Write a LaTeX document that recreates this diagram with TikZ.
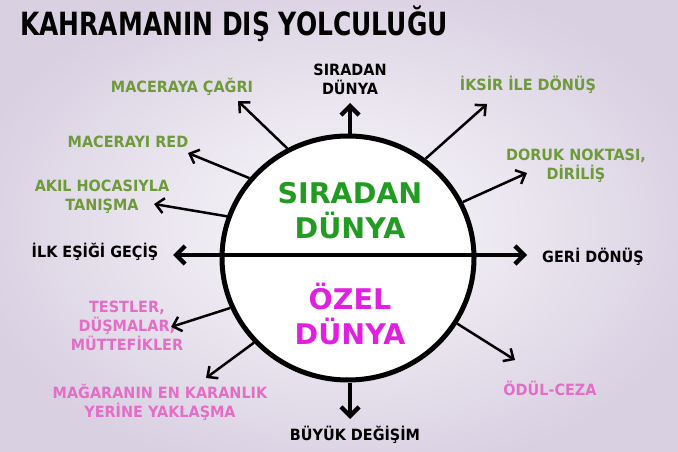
\documentclass[tikz,border=0pt]{standalone}
\usepackage{fontspec}
\setmainfont{DejaVu Sans}
\usetikzlibrary{arrows.meta,shapes.geometric}
\definecolor{lblgreen}{HTML}{6E9A3A}
\definecolor{biggreen}{HTML}{239B23}
\definecolor{lblpink}{HTML}{E46EC6}
\definecolor{bigmag}{HTML}{E020E0}
\definecolor{bgin}{HTML}{FAF9FB}
\definecolor{bgout}{HTML}{D9D0E2}
\tikzset{
  lbl/.style={font=\bfseries\fontsize{15.5}{19}\selectfont, align=center, inner sep=0pt},
  biglbl/.style={font=\bfseries\fontsize{28.5}{35}\selectfont, align=center, inner sep=0pt},
  thinarrow/.style={line width=2.5pt, -{Straight Barb[length=8pt,width=15pt,line width=2.5pt]}},
  thickarrow/.style={line width=4.4pt, -{Straight Barb[length=9pt,width=18pt,line width=4.4pt]}},
}
\newcommand{\nrw}[1]{\scalebox{0.93}[1]{#1}}
\begin{document}
\begin{tikzpicture}[x=1pt,y=-1pt]
\useasboundingbox (0,0) rectangle (678,452);
\shade[inner color=bgin, outer color=bgout] (-40,-30) rectangle (718,482);
% title
\node[anchor=west, inner sep=0pt, font=\bfseries\fontsize{32}{36}\selectfont] (title) at (20,24) {\scalebox{0.78}[1]{KAHRAMANIN DIŞ YOLCULUĞU}};
% world circle
\node[ellipse, draw, line width=5pt, fill=white, minimum width=252pt, minimum height=244pt, inner sep=0pt] (world) at (348,258) {};
% horizontal axis
\coordinate (hl) at (173,255);
\coordinate (hr) at (527,255);
\draw[line width=4.4pt, {Straight Barb[length=9pt,width=18pt,line width=4.4pt]}-{Straight Barb[length=9pt,width=18pt,line width=4.4pt]}] (hl) -- (hr);
% big labels
\node[biglbl, text=biggreen] (sir) at (350,211) {SIRADAN\\DÜNYA};
\node[biglbl, text=bigmag] (ozel) at (350,314) {ÖZEL\\DÜNYA};
% labels
\node[lbl] (topsir) at (350,79) {\nrw{SIRADAN}\\\nrw{DÜNYA}};
\node[lbl] (buyuk) at (355,435) {\nrw{BÜYÜK DEĞİŞİM}};
\node[lbl] (ilk) at (95,252) {\nrw{İLK EŞİĞİ GEÇİŞ}};
\node[lbl] (geri) at (593,257) {\nrw{GERİ DÖNÜŞ}};
\node[lbl, text=lblgreen] (cagri) at (182,87) {\nrw{MACERAYA ÇAĞRI}};
\node[lbl, text=lblgreen] (red) at (128,142) {\nrw{MACERAYI RED}};
\node[lbl, text=lblgreen] (akil) at (102,197) {\nrw{AKIL HOCASIYLA}\\\nrw{TANIŞMA}};
\node[lbl, text=lblgreen] (iksir) at (528,85) {\nrw{İKSİR İLE DÖNÜŞ}};
\node[lbl, text=lblgreen] (doruk) at (576,166) {\nrw{DORUK NOKTASI,}\\\nrw{DİRİLİŞ}};
\node[lbl, text=lblpink] (testler) at (127,326) {\nrw{TESTLER,}\\\nrw{DÜŞMALAR,}\\\nrw{MÜTTEFİKLER}};
\node[lbl, text=lblpink] (magara) at (160,402) {\nrw{MAĞARANIN EN KARANLIK}\\\nrw{YERİNE YAKLAŞMA}};
\node[lbl, text=lblpink] (odul) at (550,388) {\nrw{ÖDÜL-CEZA}};
% vertical arrows
\coordinate (vt) at (350,103);
\coordinate (vb) at (350,419);
\draw[thickarrow] (world.north) ++(2,0) -- (vt);
\draw[thickarrow] (world.south) ++(2,0) -- (vb);
% thin arrows
\coordinate (t1) at (238,101);
\coordinate (t2) at (188,153);
\coordinate (t3) at (154,204);
\coordinate (t4) at (487,104);
\coordinate (t5) at (527,173);
\coordinate (t6) at (171,327);
\coordinate (t7) at (206,378);
\coordinate (t8) at (515,360);
\draw[thinarrow] (world.119.5) -- (t1);
\draw[thinarrow] (world.141.5) -- (t2);
\draw[thinarrow] (world.161.6) -- (t3);
\draw[thinarrow] (world.52) -- (t4);
\draw[thinarrow] (world.26.4) -- (t5);
\draw[thinarrow] (world.203.8) -- (t6);
\draw[thinarrow] (world.222.5) -- (t7);
\draw[thinarrow] (world.329) -- (t8);
\end{tikzpicture}
\end{document}
